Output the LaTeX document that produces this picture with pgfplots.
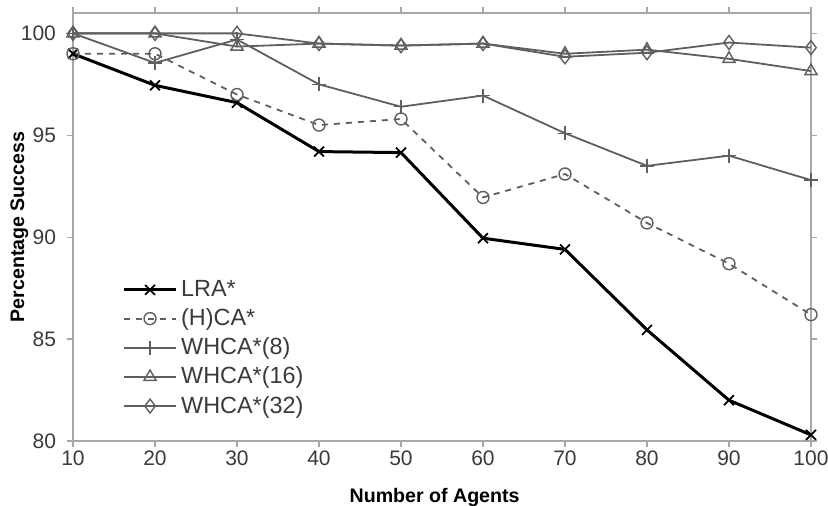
\documentclass[border=0pt]{standalone}
\usepackage{fontspec}
\setmainfont{Liberation Sans}
\usepackage{pgfplots}
\pgfplotsset{compat=1.18}

\definecolor{linegray}{HTML}{5F5F5F}
\definecolor{axgray}{HTML}{A8A8A8}
\definecolor{txtgray}{HTML}{3A3A3A}

\begin{document}
\begin{tikzpicture}
\begin{axis}[
    scale only axis,
    width=369pt, height=214pt,
    xmin=10, xmax=100,
    ymin=80, ymax=101,
    xtick={10,20,...,100},
    ytick={80,85,90,95,100},
    axis line style={axgray, line width=0.8pt},
    tick style={axgray, line width=0.6pt},
    tick align=outside,
    major tick length=3pt,
    tick label style={font=\fontsize{10.5}{12}\selectfont, text=txtgray},
    x tick label style={yshift=1.5pt},
    y tick label style={xshift=-2pt},
    /pgf/number format/assume math mode=true,
    xlabel={\textbf{Number of Agents}},
    ylabel={\textbf{Percentage Success}},
    label style={font=\fontsize{9.8}{11}\selectfont},
    xlabel style={at={(axis description cs:0.49,0)}, anchor=center, yshift=-28pt},
    ylabel style={yshift=-10.5pt},
    legend style={draw=none, fill=none, at={(0.059,0.395)}, anchor=north west,
        font=\fontsize{11.7}{13.5}\selectfont, row sep=0.6pt, text=txtgray},
    legend cell align=left,
    legend image code/.code={
        \draw[mark repeat=2, mark phase=2] plot coordinates {(0cm,0cm) (0.45cm,0cm) (0.9cm,0cm)};
    },
]
\addplot[black, line width=1.5pt, mark=x, mark size=3.5pt, mark options={solid, line width=0.9pt}] coordinates {
    (10,99.0) (20,97.45) (30,96.6) (40,94.2) (50,94.15) (60,89.95) (70,89.4) (80,85.45) (90,82.0) (100,80.3)
};
\addlegendentry{LRA*}
\addplot[linegray, line width=0.9pt, dashed, mark=o, mark size=3pt, mark options={solid, line width=0.7pt}] coordinates {
    (10,99.0) (20,99.0) (30,97.0) (40,95.5) (50,95.8) (60,91.95) (70,93.1) (80,90.7) (90,88.7) (100,86.2)
};
\addlegendentry{(H)CA*}
\addplot[linegray, line width=0.9pt, mark=+, mark size=3.5pt, mark options={solid, line width=0.7pt}] coordinates {
    (10,100.0) (20,98.55) (30,99.7) (40,97.5) (50,96.4) (60,96.95) (70,95.1) (80,93.5) (90,94.0) (100,92.8)
};
\addlegendentry{WHCA*(8)}
\addplot[linegray, line width=0.9pt, mark=triangle, mark size=3.5pt, mark options={solid, line width=0.7pt}] coordinates {
    (10,100.0) (20,100.0) (30,99.35) (40,99.5) (50,99.4) (60,99.5) (70,99.0) (80,99.2) (90,98.75) (100,98.15)
};
\addlegendentry{WHCA*(16)}
\addplot[linegray, line width=0.9pt, mark=diamond, mark size=3.5pt, mark options={solid, line width=0.7pt}] coordinates {
    (10,100.0) (20,100.0) (30,100.0) (40,99.5) (50,99.4) (60,99.5) (70,98.85) (80,99.05) (90,99.55) (100,99.3)
};
\addlegendentry{WHCA*(32)}
\end{axis}
\pgfresetboundingbox
\path[use as bounding box] (-36.5pt,-32.5pt) rectangle (377.5pt,220.5pt);
\end{tikzpicture}
\end{document}
